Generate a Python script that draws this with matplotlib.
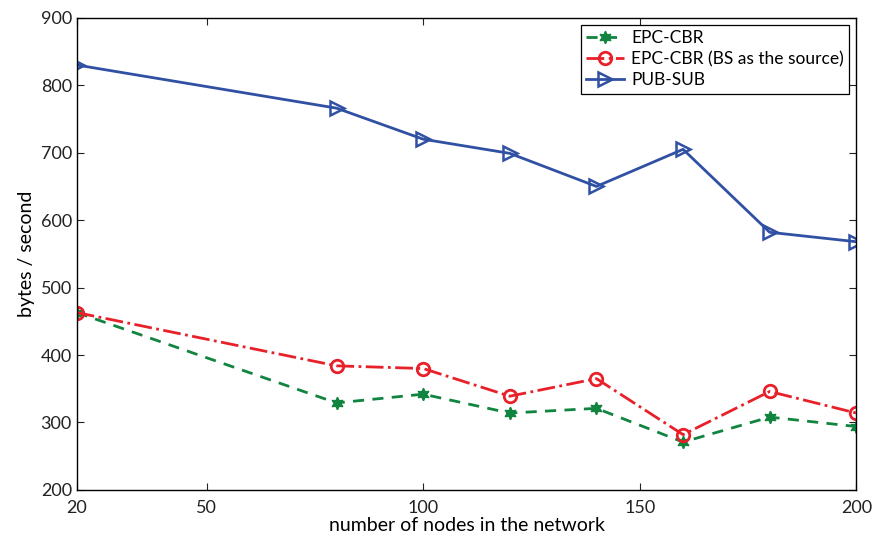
import matplotlib

matplotlib.use("Agg")
import matplotlib.pyplot as plt

plt.rcParams["font.family"] = ["Lato", "DejaVu Sans"]

nodes = [20, 80, 100, 120, 140, 160, 180, 200]
epc_cbr = [463, 329, 342, 314, 321, 271, 308, 294]
epc_cbr_bs = [463, 384, 380, 339, 365, 282, 346, 314]
pub_sub = [830, 766, 720, 699, 650, 705, 582, 568]

fig = plt.figure(figsize=(8.72, 5.39), dpi=100)
ax = fig.add_axes([0.088, 0.091, 0.894, 0.876])

ax.plot(nodes, epc_cbr, "--", color="#11843f", lw=2.0, dashes=(4, 3),
        marker=(6, 1, 0), ms=9, mfc="#11843f", mec="#11843f",
        label="EPC-CBR")
ax.plot(nodes, epc_cbr_bs, "-.", color="#e8202a", lw=2.0,
        marker="o", ms=9, mfc="none", mec="#e8202a", mew=2.0,
        label="EPC-CBR (BS as the source)")
ax.plot(nodes, pub_sub, "-", color="#3050a4", lw=2.0,
        marker=">", ms=10, mfc="none", mec="#3050a4", mew=1.8,
        label="PUB-SUB")

ax.set_xlim(20, 200)
ax.set_ylim(200, 900)
ax.set_xticks([20, 50, 100, 150, 200])
ax.set_yticks(range(200, 901, 100))
ax.tick_params(direction="in", top=True, right=True, labelsize=13,
               length=5, width=0.8, colors="#222222")
ax.tick_params(axis="x", pad=7)
for s in ax.spines.values():
    s.set_linewidth(1.0)
ax.set_xlabel("number of nodes in the network", fontsize=14, labelpad=1)
ax.set_ylabel("bytes / second", fontsize=14)

leg = ax.legend(loc="upper right", fontsize=12.5, fancybox=False,
                framealpha=1, edgecolor="black", borderaxespad=0.4,
                handlelength=2.2, handletextpad=0.4, labelspacing=0.3,
                borderpad=0.3)
leg.get_frame().set_linewidth(0.9)

fig.savefig("out.png", dpi=100)
